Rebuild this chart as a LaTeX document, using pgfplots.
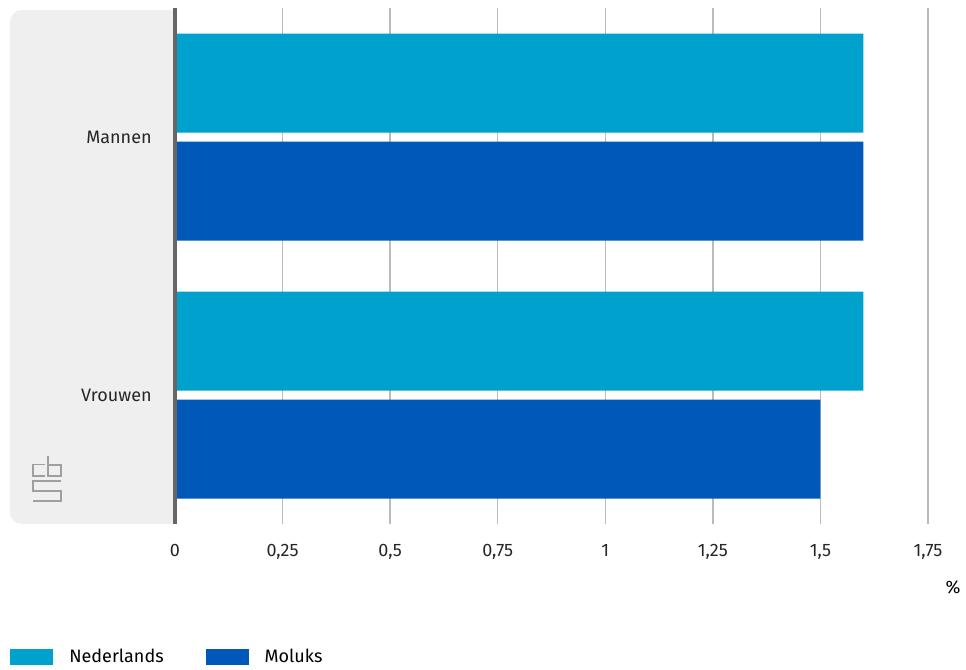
\documentclass[border=0pt]{standalone}
\usepackage{fontspec}
\setmainfont{Fira Sans}
\usepackage{pgfplots}
\pgfplotsset{compat=1.18}
\definecolor{ned}{HTML}{00A1CD}
\definecolor{mol}{HTML}{0058B8}
\definecolor{panel}{HTML}{EFEFEF}
\definecolor{gridc}{HTML}{BBBBBB}
\definecolor{axc}{HTML}{666666}
\begin{document}
\begin{tikzpicture}
\path[use as bounding box] (0,0) rectangle (724.5pt,501.75pt);
\begin{scope}[x=0.75pt,y=-0.75pt,shift={(0,501.75pt)}]
\fill[panel] (176,10) [rounded corners=9pt] -- (10,10) -- (10,524) [sharp corners] -- (176,524) -- cycle;
\begin{scope}[draw=gray!75, line width=0.8pt, double=panel, double distance=1.2pt]
\draw (45,464.5) -- (33,464.5) -- (33,476) -- (45,476);
\draw (48,456) -- (48,476) -- (61,476) -- (61,465) -- (48,465);
\draw (61,481) -- (33,481) -- (33,491) -- (61,491) -- (61,501) -- (33,501);
\end{scope}
\node[font=\fontsize{13.5}{15}\selectfont, inner sep=0pt] at (953,587) {\%};
\end{scope}
\begin{axis}[
  at={(131.25pt,108.75pt)}, anchor=south west,
  scale only axis, width=564.75pt, height=387pt,
  xmin=0, xmax=1.75, ymin=-0.5, ymax=1.5,
  clip=false,
  axis line style={draw=none},
  xtick={0,0.25,0.5,0.75,1,1.25,1.5,1.75},
  xticklabels={0,{0,25},{0,5},{0,75},1,{1,25},{1,5},{1,75}},
  ytick={0,1}, yticklabels={Vrouwen,Mannen},
  major tick length=0pt,
  xmajorgrids, major grid style={draw=gridc, line width=1.1pt},
  ticklabel style={font=\fontsize{13.5}{15}\selectfont, text=black!85},
  xticklabel style={yshift=-12pt},
  yticklabel style={xshift=-14pt},
  xbar, bar width=74.25pt,
  legend style={at={(-0.219,-0.258)}, anchor=west, draw=none, fill=none,
    legend columns=2, font=\fontsize{13.5}{15}\selectfont,
    /tikz/every even column/.append style={column sep=29.5pt},
    legend cell align=left, inner sep=0pt},
  legend image code/.code={\fill[#1] (0pt,-6pt) rectangle (32.25pt,6pt);},
]
\addplot[fill=ned, draw=none, bar shift=40.5pt] coordinates {(1.6,1) (1.6,0)};
\addlegendentry{\hspace{10pt}Nederlands}
\addplot[fill=mol, draw=none, bar shift=-40.5pt] coordinates {(1.6,1) (1.5,0)};
\addlegendentry{\hspace{10pt}Moluks}
\end{axis}
\fill[axc] (129.9pt,108.75pt) rectangle (132.4pt,495.75pt);
\end{tikzpicture}
\end{document}
